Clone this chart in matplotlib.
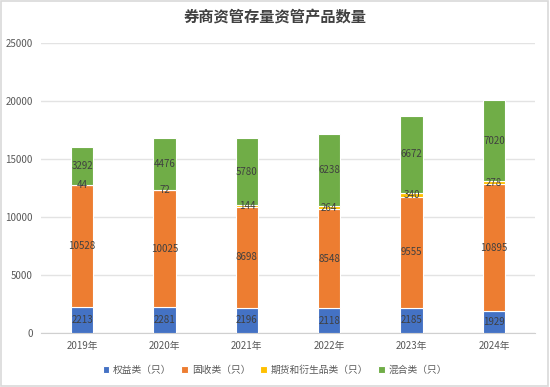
import numpy as np
import matplotlib
matplotlib.use('Agg')
import matplotlib.pyplot as plt
from matplotlib.patches import Rectangle

plt.rcParams['font.family'] = ['Noto Sans CJK SC', 'DejaVu Sans']

years = ['2019年', '2020年', '2021年', '2022年', '2023年', '2024年']
equity = [2213, 2281, 2196, 2118, 2185, 1929]
fixed = [10528, 10025, 8698, 8548, 9555, 10895]
futures = [44, 72, 144, 264, 340, 278]
mixed = [3292, 4476, 5780, 6238, 6672, 7020]

names = ['权益类（只）', '固收类（只）', '期货和衍生品类（只）', '混合类（只）']
colors = ['#4472C4', '#ED7D31', '#FFC000', '#70AD47']

fig = plt.figure(figsize=(5.5, 3.87), dpi=100)
ax = fig.add_axes([0.0745, 0.1395, 0.8985, 0.7485])

x = np.arange(len(years))
bottom = np.zeros(len(years))
for vals, name, c in zip([equity, fixed, futures, mixed], names, colors):
    vals = np.array(vals)
    bars = ax.bar(x, vals, 0.27, bottom=bottom, color=c, edgecolor='white',
                  linewidth=0.8, label=name, zorder=3)
    for xi, b, v in zip(x, bottom, vals):
        ax.text(xi, b + v / 2, str(v), ha='center', va='center',
                fontsize=7, color='#404040', zorder=4)
    bottom = bottom + vals

ax.set_xlim(-0.5, len(years) - 0.5)
ax.set_ylim(0, 25000)
ax.set_yticks(range(0, 25001, 5000))
ax.set_xticks(x)
ax.set_xticklabels(years)
ax.yaxis.grid(True, color='#e3e3e3', linewidth=1, zorder=0)
for s in ['top', 'right', 'left']:
    ax.spines[s].set_visible(False)
ax.spines['bottom'].set_color('#d0d0d0')
ax.tick_params(axis='both', length=0, labelsize=7, colors='#595959')
ax.tick_params(axis='y', pad=6)
ax.tick_params(axis='x', pad=6)

fig.text(0.5, 0.955, '券商资管存量资管产品数量', ha='center', va='center',
         fontsize=11, color='#404040', fontweight='bold')

fig.legend(loc='center', bbox_to_anchor=(0.5, 0.044), ncol=4, frameon=False,
           fontsize=7, handlelength=0.7, handleheight=0.7, handletextpad=0.4,
           columnspacing=1.0, labelcolor='#595959')

fig.patches.append(Rectangle((0.002, 0.003), 0.995, 0.994, transform=fig.transFigure,
                             fill=False, edgecolor='#d9d9d9', linewidth=1.2))

fig.savefig('out.png', dpi=100, facecolor='white')
